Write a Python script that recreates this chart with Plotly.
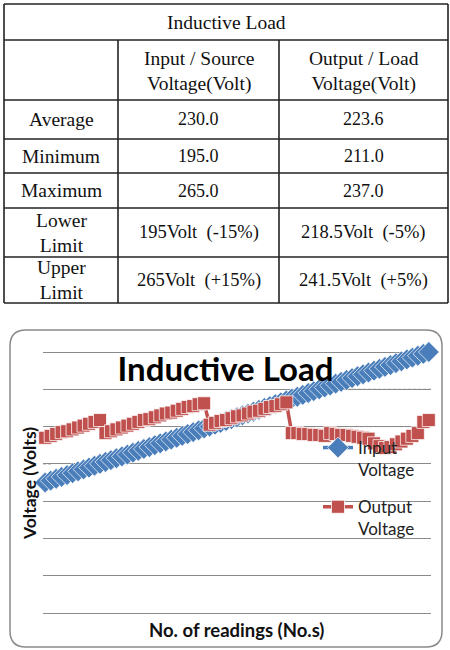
import plotly.graph_objects as go

# ---------------- data ----------------
readings = list(range(1, 72))
input_voltage = [195, 196, 197, 198, 199, 200, 201, 202, 203, 204,
                 205, 206, 207, 208, 209, 210, 211, 212, 213, 214,
                 215, 216, 217, 218, 219, 220, 221, 222, 223, 224,
                 225, 226, 227, 228, 229, 230, 231, 232, 233, 234,
                 235, 236, 237, 238, 239, 240, 241, 242, 243, 244,
                 245, 246, 247, 248, 249, 250, 251, 252, 253, 254,
                 255, 256, 257, 258, 259, 260, 261, 262, 263, 264, 265]
output_voltage = [219, 220, 221, 222, 222.5, 223.5, 224.5, 225.5, 226.5, 227.5, 228.5,
                  221.5, 222.5, 223.5, 224.5, 225.5, 226.5, 227.5, 228.5, 229, 230,
                  231, 232, 232.5, 233.5, 234.5, 235.5, 236, 237, 237.5,
                  226, 227, 228, 228.5, 229.5, 230.5, 231, 232, 233, 233.5,
                  234.5, 235.5, 236, 237, 238,
                  221.5, 221.5, 221, 221, 220.5, 220.5, 220,
                  221.5, 221, 220.5, 220.5, 220, 219.5, 219, 218.5,
                  216, 214.5, 213.5, 214, 215.5, 217, 218.5, 220, 221.5, 227.5, 228.5]

series_names = ["Input<br>Voltage", "Output<br>Voltage"]
chart_title = "Inductive Load"
x_title = "No. of readings (No.s)"
y_title = "Voltage (Volts)"

table_title = "Inductive Load"
col_headers = ["", "Input / Source<br>Voltage(Volt)", "Output / Load<br>Voltage(Volt)"]
row_labels = ["Average", "Minimum", "Maximum", "Lower<br>Limit", "Upper<br>Limit"]
input_stats = ["230.0", "195.0", "265.0", "195Volt\u00a0\u00a0(-15%)", "265Volt\u00a0\u00a0(+15%)"]
output_stats = ["223.6", "211.0", "237.0", "218.5Volt\u00a0\u00a0(-5%)", "241.5Volt\u00a0\u00a0(+5%)"]

# gridline values that show dashed portions, with their pixel spans
dashed_grid = [(245, 333, 431), (225, 330, 431), (205, 43, 53)]

# ---------------- layout geometry (pixels) ----------------
W, H = 450, 650
ML, MR, MT, MB = 43, 19, 351, 37
PW = W - ML - MR
PH = H - MB - MT


def px(x):
    return (x - ML) / PW


def py(y):
    return (H - MB - y) / PH


BLUE = "#4A7EBB"
RED = "#C0504D"
SANS = "Lato"
SERIF = "'Liberation Serif', 'Times New Roman', Times, serif"

fig = go.Figure()
fig.add_trace(go.Scatter(
    x=readings, y=input_voltage, name=series_names[0], mode="lines+markers",
    line=dict(color=BLUE, width=3.5),
    marker=dict(symbol="diamond", size=16, color=BLUE,
                line=dict(color="rgba(255,255,255,0.7)", width=1)),
    cliponaxis=False, legendgroup="a"))
fig.add_trace(go.Scatter(
    x=readings, y=output_voltage, name=series_names[1], mode="lines+markers",
    line=dict(color=RED, width=3.5),
    marker=dict(symbol="square", size=13, color=RED,
                line=dict(color="rgba(255,255,255,0.75)", width=1)),
    cliponaxis=False, legendgroup="b"))

shapes = []
annotations = []

# rounded chart frame
x0, x1, y0, y1, r = 10, 442, 330, 647, 16
pts = [("M", x0 + r, y0), ("L", x1 - r, y0), ("Q", x1, y0, x1, y0 + r),
       ("L", x1, y1 - r), ("Q", x1, y1, x1 - r, y1), ("L", x0 + r, y1),
       ("Q", x0, y1, x0, y1 - r), ("L", x0, y0 + r), ("Q", x0, y0, x0 + r, y0)]
path = ""
for p in pts:
    if p[0] == "Q":
        path += f"Q{px(p[1]):.5f},{py(p[2]):.5f} {px(p[3]):.5f},{py(p[4]):.5f} "
    else:
        path += f"{p[0]}{px(p[1]):.5f},{py(p[2]):.5f} "
path += "Z"
shapes.append(dict(type="path", path=path, xref="paper", yref="paper",
                   line=dict(color="#8a8a8a", width=1.5), layer="below"))

# dashed gridline portions
for val, xa, xb in dashed_grid:
    shapes.append(dict(type="line", xref="paper", yref="y", x0=px(xa), x1=px(xb),
                       y0=val, y1=val, line=dict(color="white", width=2), layer="below"))
    shapes.append(dict(type="line", xref="paper", yref="y", x0=px(xa), x1=px(xb),
                       y0=val, y1=val, line=dict(color="#8a8a8a", width=1, dash="3px,2px"),
                       layer="below"))

# table grid
row_y = [4, 40, 100, 139, 173, 208, 257, 303]
col_x = [4, 118, 279, 448]
for i, y in enumerate(row_y):
    shapes.append(dict(type="line", xref="paper", yref="paper",
                       x0=px(col_x[0]), x1=px(col_x[-1]), y0=py(y), y1=py(y),
                       line=dict(color="#222", width=1.6)))
for j, x in enumerate(col_x):
    top = row_y[0] if j in (0, len(col_x) - 1) else row_y[1]
    shapes.append(dict(type="line", xref="paper", yref="paper",
                       x0=px(x), x1=px(x), y0=py(top), y1=py(row_y[-1]),
                       line=dict(color="#222", width=1.6)))


def cell_text(text, cx, cy, size):
    annotations.append(dict(text=text, x=px(cx), y=py(cy), xref="paper", yref="paper",
                            showarrow=False, xanchor="center", yanchor="middle",
                            font=dict(family=SERIF, size=size, color="#111")))


cell_text(table_title, (col_x[0] + col_x[-1]) / 2, (row_y[0] + row_y[1]) / 2, 19.5)
for j, h in enumerate(col_headers):
    if h:
        cell_text(h, (col_x[j] + col_x[j + 1]) / 2, (row_y[1] + row_y[2]) / 2 + 1, 19.5)
for i in range(len(row_labels)):
    cy = (row_y[i + 2] + row_y[i + 3]) / 2
    cell_text(row_labels[i], (col_x[0] + col_x[1]) / 2, cy, 19.5)
    vs = 18 if i < 3 else 18.5
    cell_text(input_stats[i], (col_x[1] + col_x[2]) / 2, cy, vs)
    cell_text(output_stats[i], (col_x[2] + col_x[3]) / 2, cy, vs)

# axis titles
annotations.append(dict(text=f"<b>{y_title}</b>", x=px(29), y=py(484), xref="paper", yref="paper",
                        showarrow=False, textangle=-90, xanchor="center", yanchor="middle",
                        font=dict(family=SANS, size=17.5, color="#111")))
annotations.append(dict(text=f"<b>{x_title}</b>", x=px(236), y=py(630), xref="paper", yref="paper",
                        showarrow=False, xanchor="center", yanchor="middle",
                        font=dict(family=SANS, size=18.5, color="#111")))

fig.update_layout(
    width=W, height=H, margin=dict(l=ML, r=MR, t=MT, b=MB),
    paper_bgcolor="white", plot_bgcolor="white",
    title=dict(text=f"<b>{chart_title}</b>", x=225.5 / W, xanchor="center",
               y=1 - 369 / H, yanchor="middle", yref="container",
               font=dict(family=SANS, size=33, color="black")),
    xaxis=dict(range=[0.6, 71.4], showticklabels=False, showgrid=False, zeroline=False,
               showline=True, linecolor="#8a8a8a", linewidth=1, ticks=""),
    yaxis=dict(range=[125, 265.54], tick0=125, dtick=20, showticklabels=False,
               showgrid=True, gridcolor="#8a8a8a", gridwidth=1, zeroline=False,
               showline=False, ticks=""),
    legend=dict(x=px(318), y=py(430), xanchor="left", yanchor="top",
                bgcolor="rgba(0,0,0,0)", font=dict(family=SANS, size=17, color="#222"),
                valign="top", tracegroupgap=12),
    shapes=shapes, annotations=annotations,
)

fig.write_html("out.html")
